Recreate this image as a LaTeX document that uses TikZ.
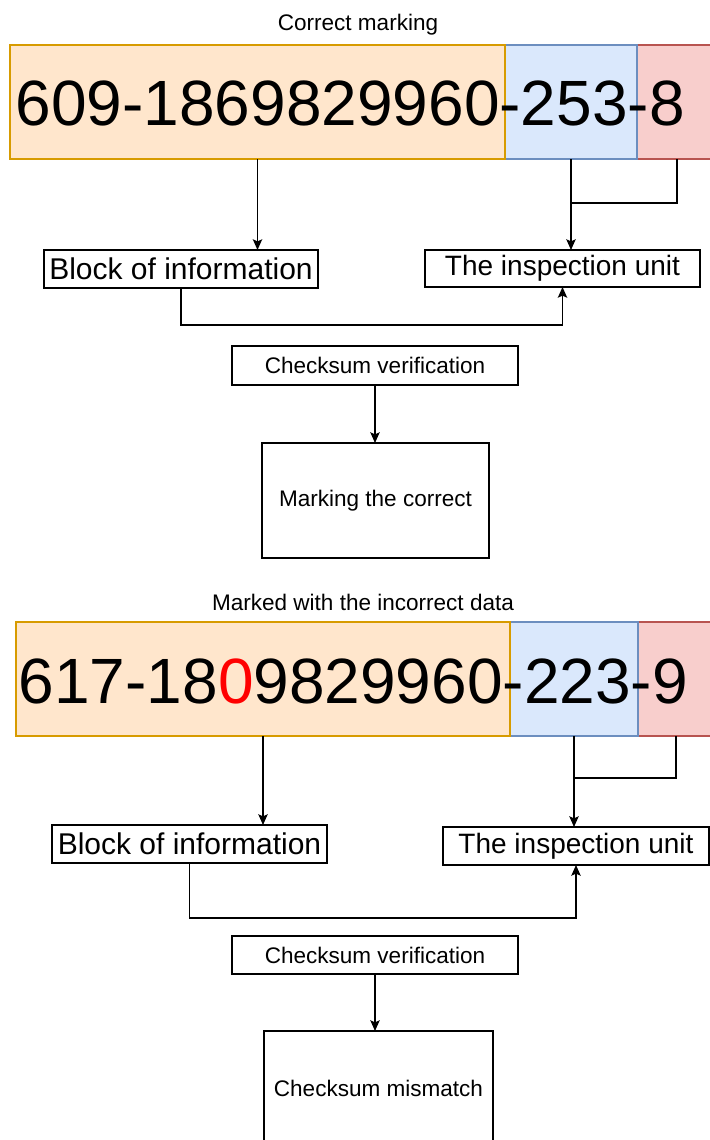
\documentclass[tikz,border=0pt]{standalone}
\usepackage{fontspec}
\setmainfont{Liberation Sans}
\usepackage{tikz}
\usetikzlibrary{positioning,calc,arrows.meta}

\definecolor{infofill}{HTML}{FFE6CC}
\definecolor{infoline}{HTML}{D79B00}
\definecolor{unitfill}{HTML}{DAE8FC}
\definecolor{unitline}{HTML}{6C8EBF}
\definecolor{ctrlfill}{HTML}{F8CECC}
\definecolor{ctrlline}{HTML}{B85450}
\def\px{0.75pt}

\begin{document}
\begin{tikzpicture}[x=\px, y=-\px, line width=1.1pt,
        >={Stealth[length=8pt,width=7pt,inset=1.5pt]},
        cell/.style={draw, line width=1pt, minimum height=114*\px, inner sep=0pt, outer sep=0pt},
        infocell/.style={cell, fill=infofill, draw=infoline},
        unitcell/.style={cell, fill=unitfill, draw=unitline},
        ctrlcell/.style={cell, fill=ctrlfill, draw=ctrlline},
        code/.style={font=\fontsize{48}{48}\selectfont, inner sep=0pt, anchor=base west},
        box/.style={draw, inner sep=0pt, outer sep=0pt},
        note/.style={font=\fontsize{16.9}{20}\selectfont},
        blockfont/.style={font=\fontsize{22.5}{26}\selectfont},
        unitfont/.style={font=\fontsize{21}{25}\selectfont}]
        \useasboundingbox (0,0) rectangle (710,1140);

        % correct code
        \node[note] (titleA) at (358,25) {Correct marking};
        \node[ctrlcell, minimum width=80*\px, anchor=north west] (ctrlA) at (637,45) {};
        \node[unitcell, minimum width=132*\px, left=0pt of ctrlA] (unitA) {};
        \node[infocell, minimum width=495*\px, left=0pt of unitA] (infoA) {};
        \node[code] (codeA) at (15,125) {609-1869829960-253-8};

        \node[box, blockfont, minimum width=274*\px, minimum height=38*\px] (blockA) at (181,269) {Block of information};
        \node[box, unitfont, minimum width=275*\px, minimum height=37*\px] (checkunitA) at (562.5,268.5) {The inspection unit};
        \node[box, note, minimum width=286*\px, minimum height=39*\px] (verifyA) at (375,365.5) {Checksum verification};
        \node[box, note, minimum width=227*\px, minimum height=115*\px] (resultA) at (375.5,500.5) {Marking the correct};

        \draw[->] (infoA.south) -- (infoA.south |- blockA.north);
        \draw[->] (unitA.south) -- (unitA.south |- checkunitA.north);
        \draw (ctrlA.south) |- ($(unitA.south)+(0,44)$);
        \draw[->] (blockA.south) -- ++(0,37) -| (checkunitA.south);
        \draw[->] (verifyA.south) -- (verifyA.south |- resultA.north);

        % code with a wrong digit
        \node[note] (titleB) at (363,602) {Marked with the incorrect data};
        \node[ctrlcell, minimum width=76*\px, anchor=north west] (ctrlB) at (638,622) {};
        \node[unitcell, minimum width=128*\px, left=0pt of ctrlB] (unitB) {};
        \node[infocell, minimum width=494*\px, left=0pt of unitB] (infoB) {};
        \node[code] (codeB) at (18,703) {617-18\textcolor{red}{0}9829960-223-9};

        \node[box, blockfont, minimum width=275*\px, minimum height=38*\px] (blockB) at (189.5,844) {Block of information};
        \node[box, unitfont, minimum width=266*\px, minimum height=38*\px] (checkunitB) at (576,846) {The inspection unit};
        \node[box, note, minimum width=286*\px, minimum height=38*\px] (verifyB) at (375,955) {Checksum verification};
        \node[box, note, minimum width=229*\px, minimum height=115*\px] (resultB) at (378.5,1088.5) {Checksum mismatch};

        \draw[->] (infoB.south) -- (infoB.south |- blockB.north);
        \draw[->] (unitB.south) -- (unitB.south |- checkunitB.north);
        \draw (ctrlB.south) |- ($(unitB.south)+(0,42)$);
        \draw[->] (blockB.south) -- ++(0,55) -| (checkunitB.south);
        \draw[->] (verifyB.south) -- (verifyB.south |- resultB.north);
    \end{tikzpicture}
\end{document}
